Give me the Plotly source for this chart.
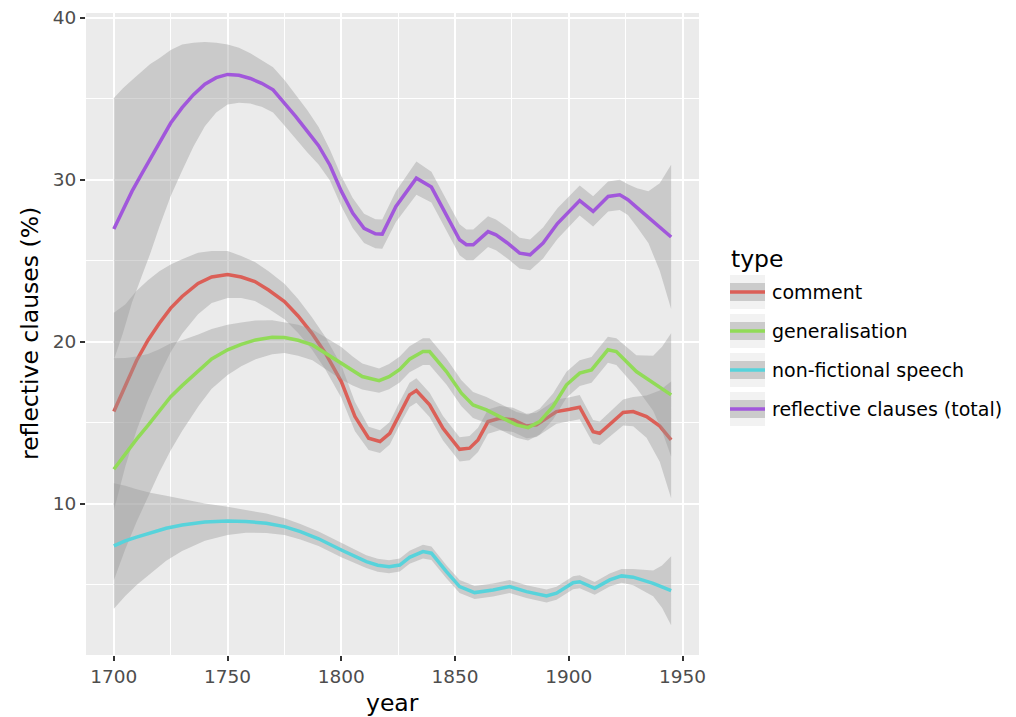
import plotly.graph_objects as go

# ---------------- data ----------------
type_names = ["comment", "generalisation", "non-fictional speech", "reflective clauses (total)"]
type_colors = ["#DB5F57", "#91DB57", "#57D3DB", "#A157DB"]

comment_year = [1700, 1705, 1710, 1715, 1720, 1725, 1730, 1737, 1743, 1750, 1756, 1762, 1768, 1775,
                1781, 1787, 1793, 1800, 1806, 1812, 1817, 1821.3, 1825.7, 1830, 1833, 1838.8, 1844.7,
                1852, 1856.4, 1860.1, 1864.5, 1869.6, 1875.5, 1881.4, 1885.8, 1894.6, 1900.4, 1904.8,
                1910.7, 1913.6, 1923.9, 1928.3, 1934.2, 1940, 1945]
comment_fit = [15.7, 17.3, 18.85, 20.1, 21.15, 22.08, 22.8, 23.6, 24.0, 24.16, 24.0, 23.72, 23.2, 22.49,
               21.6, 20.54, 19.3, 17.55, 15.39, 14.05, 13.85, 14.36, 15.6, 16.73, 17.0, 16.11, 14.67,
               13.37, 13.44, 13.95, 15.08, 15.29, 15.19, 14.81, 14.88, 15.7, 15.84, 15.97,
               14.46, 14.36, 15.64, 15.7, 15.39, 14.8, 13.95]
comment_se = [6.1, 5.0, 4.3, 3.7, 3.2, 2.7, 2.3, 1.9, 1.6, 1.45, 1.3, 1.2, 1.15, 1.1,
              1.05, 1.0, 1.0, 1.0, 0.9, 0.72, 0.7, 0.7, 0.72, 0.75, 0.76, 0.75, 0.75,
              0.75, 0.75, 0.75, 0.75, 0.75, 0.75, 0.75, 0.75, 0.75, 0.75, 0.75,
              0.72, 0.72, 0.8, 0.9, 1.3, 2.2, 3.6]

general_year = [1700, 1705, 1710, 1715, 1720, 1725, 1730, 1737.4, 1743, 1750, 1756, 1762.3, 1769.6, 1775,
                1781, 1787.3, 1793, 1800, 1805, 1809.2, 1816.6, 1821, 1825.7, 1830, 1835.9, 1838.8,
                1846.2, 1852.8, 1857.9, 1863.8, 1869.6, 1877, 1882.1, 1887.2, 1893.1, 1899, 1904.8,
                1910, 1917.2, 1920.9, 1929.7, 1937.1, 1941, 1945]
general_fit = [12.14, 13.1, 14.0, 14.85, 15.75, 16.62, 17.3, 18.27, 18.95, 19.51, 19.85, 20.12, 20.29, 20.27,
               20.1, 19.81, 19.3, 18.68, 18.2, 17.86, 17.61, 17.85, 18.3, 18.93, 19.4, 19.4,
               18.17, 16.83, 16.11, 15.8, 15.39, 14.88, 14.71, 15.08, 16.01, 17.35, 18.07,
               18.27, 19.51, 19.4, 18.17, 17.45, 17.1, 16.73]
general_se = [6.85, 5.9, 5.1, 4.4, 3.8, 3.3, 2.8, 2.2, 1.85, 1.55, 1.35, 1.2, 1.05, 0.95,
              0.95, 0.95, 0.98, 1.0, 0.9, 0.8, 0.75, 0.78, 0.8, 0.8, 0.82, 0.82,
              0.8, 0.8, 0.8, 0.8, 0.8, 0.8, 0.8, 0.8, 0.8, 0.8, 0.8,
              0.8, 0.8, 0.82, 1.0, 1.7, 2.6, 3.8]

speech_year = [1700, 1705, 1710, 1716, 1723, 1730, 1740, 1750, 1758, 1767, 1775, 1782, 1790, 1800,
               1806, 1811, 1816, 1821, 1825.7, 1830, 1835.9, 1839.6, 1846.2, 1852, 1858.6, 1866.7,
               1874, 1881.4, 1890.2, 1894.6, 1901.9, 1904.8, 1911.4, 1918, 1923.2, 1928.3, 1937.1,
               1941, 1945]
speech_fit = [7.41, 7.72, 7.95, 8.19, 8.5, 8.7, 8.88, 8.95, 8.92, 8.81, 8.6, 8.29, 7.85, 7.16,
              6.75, 6.44, 6.22, 6.13, 6.23, 6.71, 7.06, 6.96, 5.82, 4.9, 4.53, 4.69,
              4.9, 4.59, 4.32, 4.49, 5.14, 5.2, 4.79, 5.31, 5.56, 5.48, 5.1,
              4.9, 4.65]
speech_se = [3.87, 3.4, 2.95, 2.5, 2.0, 1.6, 1.15, 0.87, 0.7, 0.6, 0.52, 0.48, 0.45, 0.45,
             0.42, 0.4, 0.4, 0.4, 0.4, 0.4, 0.42, 0.42, 0.4, 0.4, 0.4, 0.4,
             0.4, 0.4, 0.4, 0.4, 0.4, 0.4, 0.4, 0.4, 0.42, 0.5, 0.8,
             1.3, 2.13]

total_year = [1700, 1704, 1708, 1712, 1716, 1720, 1725, 1730, 1735, 1740, 1745, 1750, 1755, 1760,
              1765, 1770, 1775, 1780, 1785, 1790, 1795, 1800, 1805, 1810, 1815, 1818, 1824, 1833,
              1839.6, 1852, 1855, 1858, 1864.5, 1868, 1873, 1878.4, 1883, 1888.7, 1895, 1904.8,
              1910.7, 1917.3, 1922.4, 1926, 1930, 1935, 1940, 1945]
total_fit = [26.96, 28.1, 29.3, 30.3, 31.3, 32.3, 33.5, 34.45, 35.25, 35.9, 36.3, 36.5, 36.45, 36.25,
             35.95, 35.55, 34.75, 33.9, 33.0, 32.1, 30.9, 29.3, 27.95, 27.0, 26.67, 26.65, 28.35, 30.1,
             29.55, 26.3, 25.99, 25.99, 26.8, 26.6, 26.1, 25.47, 25.37, 26.1, 27.3, 28.72,
             28.05, 28.97, 29.07, 28.77, 28.28, 27.7, 27.08, 26.47]
total_se = [8.08, 7.55, 6.85, 6.35, 5.85, 5.2, 4.5, 3.9, 3.2, 2.6, 2.15, 1.85, 1.7, 1.55,
            1.45, 1.4, 1.4, 1.35, 1.3, 1.15, 0.95, 0.93, 0.92, 0.9, 0.9, 0.9, 0.95, 1.03,
            0.95, 0.95, 0.95, 0.95, 0.95, 0.95, 0.95, 0.95, 0.95, 0.95, 0.95, 0.93,
            0.93, 0.93, 0.93, 0.95, 1.2, 1.6, 2.7, 4.45]

series_year = [comment_year, general_year, speech_year, total_year]
series_fit = [comment_fit, general_fit, speech_fit, total_fit]
series_se = [comment_se, general_se, speech_se, total_se]

x_ticks = [1700, 1750, 1800, 1850, 1900, 1950]
y_ticks = [10, 20, 30, 40]
x_title = "year"
y_title = "reflective clauses (%)"
legend_title = "type"

# ---------------- figure ----------------
FONT = "DejaVu Sans"
BAND = "rgba(153,153,153,0.4)"
W, H = 1016, 717
ML, MR, MT, MB = 86, 317, 13, 62
PW, PH = W - ML - MR, H - MT - MB
TICK_SIZE, TITLE_SIZE, LEG_SIZE = 18.5, 23.5, 19

fig = go.Figure()
for name, col, yrs, fit, se in zip(type_names, type_colors, series_year, series_fit, series_se):
    upper = [f + s for f, s in zip(fit, se)]
    lower = [f - s for f, s in zip(fit, se)]
    fig.add_trace(go.Scatter(x=yrs + yrs[::-1], y=upper + lower[::-1], fill="toself",
                             fillcolor=BAND, line=dict(width=0), mode="lines",
                             hoverinfo="skip", showlegend=False))
    fig.add_trace(go.Scatter(x=yrs, y=fit, mode="lines", name=name,
                             line=dict(color=col, width=3.5), showlegend=False))

# pixel -> paper helpers for layout placement
def px_x(p):
    return (p - ML) / PW

def px_y(p):
    return (H - MB - p) / PH

shapes = []
annotations = [
    dict(x=px_x(729), y=px_y(259), xref="paper", yref="paper", text=legend_title,
         showarrow=False, xanchor="left", yanchor="middle",
         font=dict(family=FONT, size=TITLE_SIZE, color="black")),
    dict(x=px_x(392.5), y=px_y(703), xref="paper", yref="paper", text=x_title,
         showarrow=False, xanchor="center", yanchor="middle",
         font=dict(family=FONT, size=TITLE_SIZE, color="black")),
    dict(x=px_x(30), y=px_y(334), xref="paper", yref="paper", text=y_title, textangle=-90,
         showarrow=False, xanchor="center", yanchor="middle",
         font=dict(family=FONT, size=TITLE_SIZE, color="black")),
]
for i, (name, col) in enumerate(zip(type_names, type_colors)):
    top = 275 + 39 * i
    cy = top + 17
    shapes.append(dict(type="rect", xref="paper", yref="paper", x0=px_x(730), x1=px_x(765),
                       y0=px_y(top + 34), y1=px_y(top), fillcolor="#F2F2F2", line=dict(width=0), layer="above"))
    shapes.append(dict(type="rect", xref="paper", yref="paper", x0=px_x(730), x1=px_x(765),
                       y0=px_y(cy + 9), y1=px_y(cy - 9), fillcolor="#CBCBCB", line=dict(width=0), layer="above"))
    shapes.append(dict(type="line", xref="paper", yref="paper", x0=px_x(730), x1=px_x(765),
                       y0=px_y(cy), y1=px_y(cy), line=dict(color=col, width=3.5), layer="above"))
    annotations.append(dict(x=px_x(770), y=px_y(cy), xref="paper", yref="paper", text=name,
                            showarrow=False, xanchor="left", yanchor="middle",
                            font=dict(family=FONT, size=LEG_SIZE, color="black")))

fig.update_layout(
    width=W, height=H,
    margin=dict(l=ML, r=MR, t=MT, b=MB, pad=0, autoexpand=False),
    paper_bgcolor="white", plot_bgcolor="#EBEBEB",
    font=dict(family=FONT, size=TICK_SIZE, color="#4D4D4D"),
    showlegend=False,
    shapes=shapes, annotations=annotations,
)
fig.update_xaxes(range=[1687.75, 1957.25], tickvals=x_ticks, ticks="outside", ticklen=5,
                 tickwidth=1.5, tickcolor="#333333", showgrid=True, gridcolor="white", gridwidth=1.6,
                 zeroline=False, showline=False, automargin=False,
                 tickfont=dict(family=FONT, size=TICK_SIZE, color="#4D4D4D"),
                 minor=dict(tickvals=[1725, 1775, 1825, 1875, 1925], showgrid=True,
                            gridcolor="white", gridwidth=0.8))
fig.update_yaxes(range=[0.68, 40.29], tickvals=y_ticks, ticks="outside", ticklen=5,
                 tickwidth=1.5, tickcolor="#333333", showgrid=True, gridcolor="white", gridwidth=1.6,
                 zeroline=False, showline=False, automargin=False,
                 tickfont=dict(family=FONT, size=TICK_SIZE, color="#4D4D4D"),
                 minor=dict(tickvals=[5, 15, 25, 35], showgrid=True, gridcolor="white", gridwidth=0.8))

fig.write_html("out.html")
